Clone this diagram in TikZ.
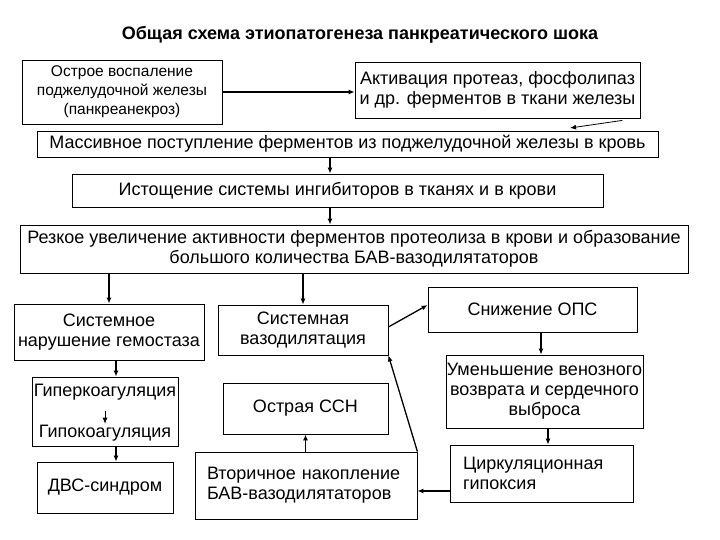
\documentclass[tikz,border=0pt]{standalone}
\usepackage{fontspec}
\setmainfont{Liberation Sans}
\usetikzlibrary{positioning,arrows.meta}

\begin{document}
\begin{tikzpicture}[x=1pt,y=-1pt,>={Latex[length=6pt,width=5pt]},font=\fontsize{18}{20}\selectfont]
\tikzstyle{box}=[rectangle,draw,line width=0.8pt,align=center,inner sep=0pt]
\tikzstyle{lbox}=[rectangle,draw,line width=0.8pt,align=left,inner ysep=2pt]
\tikzstyle{arr}=[->,line width=1.3pt]
\useasboundingbox (0,0) rectangle (720,540);
\node (title) at (360,35) {\fontsize{18}{20}\selectfont\bfseries Общая схема этиопатогенеза панкреатического шока};
\node (acute) [box,minimum width=200,minimum height=64,font=\fontsize{15.5}{19}\selectfont] at (122,92) {Острое воспаление\\поджелудочной железы\\(панкреанекроз)};
\node (activ) [box,minimum width=285,minimum height=56] at (497.5,90) {Активация протеаз, фосфолипаз\\и др. ферментов в ткани железы};
\node (influx) [box,minimum width=621,minimum height=26] at (347.5,144) {Массивное поступление ферментов из поджелудочной железы в кровь};
\node (deplet) [box,minimum width=531,minimum height=33] at (337.5,190.5) {Истощение системы ингибиторов в тканях и в крови};
\node (surge) [box,minimum width=668,minimum height=48] at (354,249) {Резкое увеличение активности ферментов протеолиза в крови и образование\\большого количества БАВ-вазодилятаторов};
\node (hemo) [box,minimum width=190,minimum height=56] at (109,332) {Системное\\нарушение гемостаза};
\node (vaso) [box,minimum width=170,minimum height=50] at (303,330) {Системная\\вазодилятация};
\node (ops) [box,minimum width=209,minimum height=45] at (532.5,309.5) {Снижение ОПС};
\node (venous) [box,minimum width=197,minimum height=73] at (544.5,391.5) {Уменьшение венозного\\возврата и сердечного\\выброса};
\node (hypox) [lbox,text width=157,inner xsep=13,minimum height=57] at (541.5,473.5) {Циркуляционная\\гипоксия};
\node (second) [lbox,text width=198,inner xsep=12,minimum height=67] at (306,485.5) {Вторичное накопление\\БАВ-вазодилятаторов};
\node (acss) [box,minimum width=165,minimum height=51] at (305.5,408.5) {Острая ССН};
\node (coag) [box,minimum width=146,minimum height=69] at (105,411.5) {};
\node (hyper) [inner sep=1pt] at (105,392) {Гиперкоагуляция};
\node (hypo) [inner sep=1pt] at (105,433) {Гипокоагуляция};
\node (dic) [box,minimum width=136,minimum height=51] at (105,487.5) {ДВС-синдром};
\coordinate (entry) at (570,128);
% upper chain
\draw[arr] (acute.east) -- (acute.east -| activ.west);
\draw[->,line width=0.8pt] ([xshift=-18pt,yshift=-2pt]activ.south east) -- (entry);
\draw[arr] (influx.south -| 330,0) -- (deplet.north -| 330,0);
\draw[arr] (deplet.south -| 330,0) -- (surge.north -| 330,0);
\draw[arr] (surge.south -| hemo) -- (hemo.north);
\draw[arr] (surge.south -| vaso) -- (vaso.north);
% left branch
\draw[arr] (hemo.south -| 116,0) -- (coag.north -| 116,0);
\draw[->,line width=0.8pt] ([yshift=-10pt]hyper.south) -- (hypo.north);
\draw[arr] (coag.south -| 116,0) -- (dic.north -| 116,0);
% right branch
\draw[arr] ([yshift=3pt]vaso.east) -- ([yshift=4.5pt]ops.west);
\draw[arr] (ops.south -| 541,0) -- (venous.north -| 541,0);
\draw[arr] (venous.south -| 548,0) -- (hypox.north -| 548,0);
\draw[arr] ([yshift=-17.5pt]hypox.west) -- ([yshift=-17.5pt]hypox.west -| second.east);
\draw[arr] (second.north -| acss) -- (acss.south);
\draw[arr] (second.north east) -- (vaso.south east);
\end{tikzpicture}
\end{document}
